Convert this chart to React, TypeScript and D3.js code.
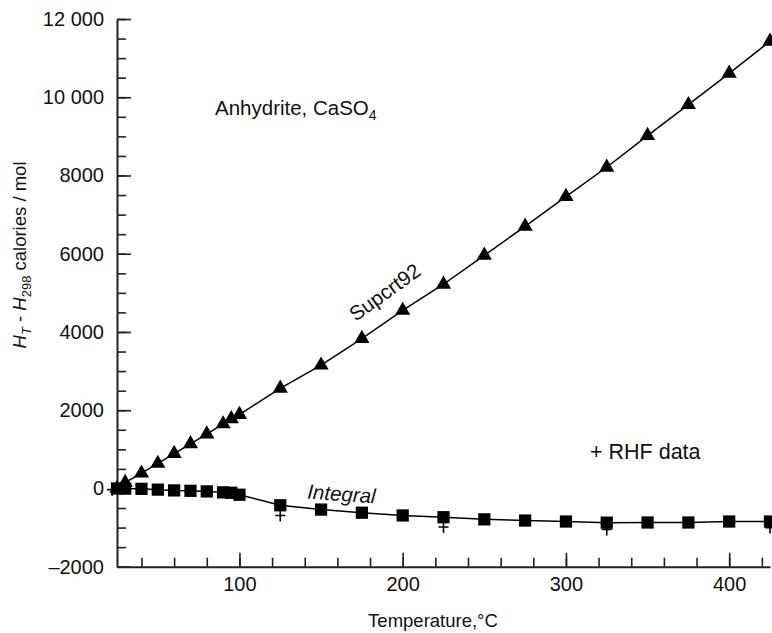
import React, { useEffect, useRef } from "react";
import * as d3 from "d3";

// Temperature (°C) and H_T - H_298 (cal/mol)
const supcrtT = [25, 30, 40, 50, 60, 70, 80, 90, 95, 100, 125, 150, 175, 200, 225, 250, 275, 300, 325, 350, 375, 400, 425];
const supcrtH = [0, 150, 390, 640, 890, 1140, 1390, 1650, 1780, 1890, 2560, 3150, 3830, 4550, 5220, 5960, 6700, 7460, 8210, 9020, 9810, 10610, 11430];

const integralT = [25, 30, 40, 50, 60, 70, 80, 90, 95, 100, 125, 150, 175, 200, 225, 250, 275, 300, 325, 350, 375, 400, 425];
const integralH = [0, -5, -10, -30, -50, -60, -75, -100, -110, -160, -430, -540, -620, -690, -735, -790, -820, -845, -875, -870, -870, -845, -845];

const rhfT = [22, 125, 225, 325, 425];
const rhfH = [-30, -690, -985, -1050, -1000];

const yMajor = [-2000, 0, 2000, 4000, 6000, 8000, 10000, 12000];
const yLabels = ["\u20132000", "0", "2000", "4000", "6000", "8000", "10 000", "12 000"];
const xMajor = [100, 200, 300, 400];

const FONT = "'Liberation Sans', Arial, Helvetica, sans-serif";

const App = () => {
    const svgRef = useRef(null);

    useEffect(() => {
        const width = 772, height = 633;
        const svg = d3.select(svgRef.current);
        svg.selectAll("*").remove();

        const x = d3.scaleLinear().domain([25, 425]).range([117, 770]);
        const y = d3.scaleLinear().domain([-2000, 12000]).range([566.7, 19]);

        // axes: minor ticks
        svg.append("g")
            .attr("transform", `translate(${x(25)},0)`)
            .call(d3.axisLeft(y).tickValues(d3.range(-2000, 12001, 500)).tickSizeInner(-9).tickSizeOuter(0).tickFormat(() => ""))
            .call(g => g.select(".domain").attr("stroke", "#222").attr("stroke-width", 2))
            .call(g => g.selectAll(".tick line").attr("stroke", "#222").attr("stroke-width", 1.6));

        svg.append("g")
            .attr("transform", `translate(${x(25)},0)`)
            .call(d3.axisLeft(y).tickValues(yMajor).tickSizeInner(-14).tickSizeOuter(0).tickPadding(13)
                .tickFormat((d, i) => yLabels[i]))
            .call(g => g.select(".domain").remove())
            .call(g => g.selectAll(".tick line").attr("stroke", "#222").attr("stroke-width", 1.6))
            .call(g => g.selectAll("text").attr("fill", "#111").style("font-size", "20px").style("font-family", FONT));

        svg.append("g")
            .attr("transform", `translate(0,${y(-2000)})`)
            .call(d3.axisBottom(x).tickValues(d3.range(40, 421, 20)).tickSizeInner(-9).tickSizeOuter(0).tickFormat(() => ""))
            .call(g => g.select(".domain").attr("stroke", "#222").attr("stroke-width", 2))
            .call(g => g.selectAll(".tick line").attr("stroke", "#222").attr("stroke-width", 1.6));

        svg.append("g")
            .attr("transform", `translate(0,${y(-2000)})`)
            .call(d3.axisBottom(x).tickValues(xMajor).tickSizeInner(-14).tickSizeOuter(0).tickPadding(10))
            .call(g => g.select(".domain").remove())
            .call(g => g.selectAll(".tick line").attr("stroke", "#222").attr("stroke-width", 1.6))
            .call(g => g.selectAll("text").attr("fill", "#111").style("font-size", "20px").style("font-family", FONT));

        // lines
        const line = d3.line().x(d => x(d[0])).y(d => y(d[1]));
        const supcrt = supcrtT.map((t, i) => [t, supcrtH[i]]);
        const integral = integralT.map((t, i) => [t, integralH[i]]);

        svg.append("path").datum(supcrt).attr("d", line)
            .attr("fill", "none").attr("stroke", "#000").attr("stroke-width", 1.5);
        svg.append("path").datum(integral).attr("d", line)
            .attr("fill", "none").attr("stroke", "#000").attr("stroke-width", 1.5);

        // RHF crosses
        svg.selectAll(".rhf").data(rhfT.map((t, i) => [t, rhfH[i]])).enter()
            .append("path")
            .attr("d", d => {
                const cx = x(d[0]), cy = y(d[1]);
                return `M${cx - 5},${cy}H${cx + 5}M${cx},${cy - 6}V${cy + 6}`;
            })
            .attr("stroke", "#000").attr("stroke-width", 1.6).attr("fill", "none");

        // markers
        svg.selectAll(".tri").data(supcrt).enter().append("path")
            .attr("transform", d => `translate(${x(d[0])},${y(d[1])})`)
            .attr("d", d3.symbol().type(d3.symbolTriangle).size(100)())
            .attr("fill", "#000");

        svg.selectAll(".sq").data(integral).enter().append("path")
            .attr("transform", d => `translate(${x(d[0])},${y(d[1])})`)
            .attr("d", d3.symbol().type(d3.symbolSquare).size(150)())
            .attr("fill", "#000");

        // annotations
        const anh = svg.append("text").attr("x", 215).attr("y", 115)
            .style("font-family", FONT).style("font-size", "20.5px").attr("fill", "#111");
        anh.append("tspan").text("Anhydrite, CaSO");
        anh.append("tspan").attr("dy", 5).style("font-size", "14px").text("4");

        svg.append("text")
            .attr("transform", "translate(389,298) rotate(-36)")
            .attr("text-anchor", "middle")
            .style("font-family", FONT).style("font-size", "20.5px").attr("fill", "#111")
            .text("Supcrt92");

        svg.append("text")
            .attr("transform", "translate(341,501) rotate(4)")
            .attr("text-anchor", "middle")
            .style("font-family", FONT).style("font-size", "20.5px").style("font-style", "italic").attr("fill", "#111")
            .text("Integral");

        svg.append("text").attr("x", 590).attr("y", 459)
            .style("font-family", FONT).style("font-size", "21.5px").attr("fill", "#111")
            .text("+ RHF data");

        svg.append("text").attr("x", 433).attr("y", 627).attr("text-anchor", "middle")
            .style("font-family", FONT).style("font-size", "18.5px").attr("fill", "#111")
            .text("Temperature,\u00b0C");

        const yl = svg.append("text")
            .attr("transform", "translate(26,255) rotate(-90)")
            .attr("text-anchor", "middle")
            .style("font-family", FONT).style("font-size", "18.5px").attr("fill", "#111");
        yl.append("tspan").style("font-style", "italic").text("H");
        yl.append("tspan").attr("dy", 5).style("font-size", "13px").style("font-style", "italic").text("T");
        yl.append("tspan").attr("dy", -5).text(" - ");
        yl.append("tspan").style("font-style", "italic").text("H");
        yl.append("tspan").attr("dy", 5).style("font-size", "13px").text("298");
        yl.append("tspan").attr("dy", -5).text(" calories / mol");

        svg.attr("width", width).attr("height", height);
    }, []);

    return (
        <svg ref={svgRef} width="772" height="633"
            style={{ position: "absolute", left: 0, top: 0, background: "#fff" }}></svg>
    );
};

export default App;
